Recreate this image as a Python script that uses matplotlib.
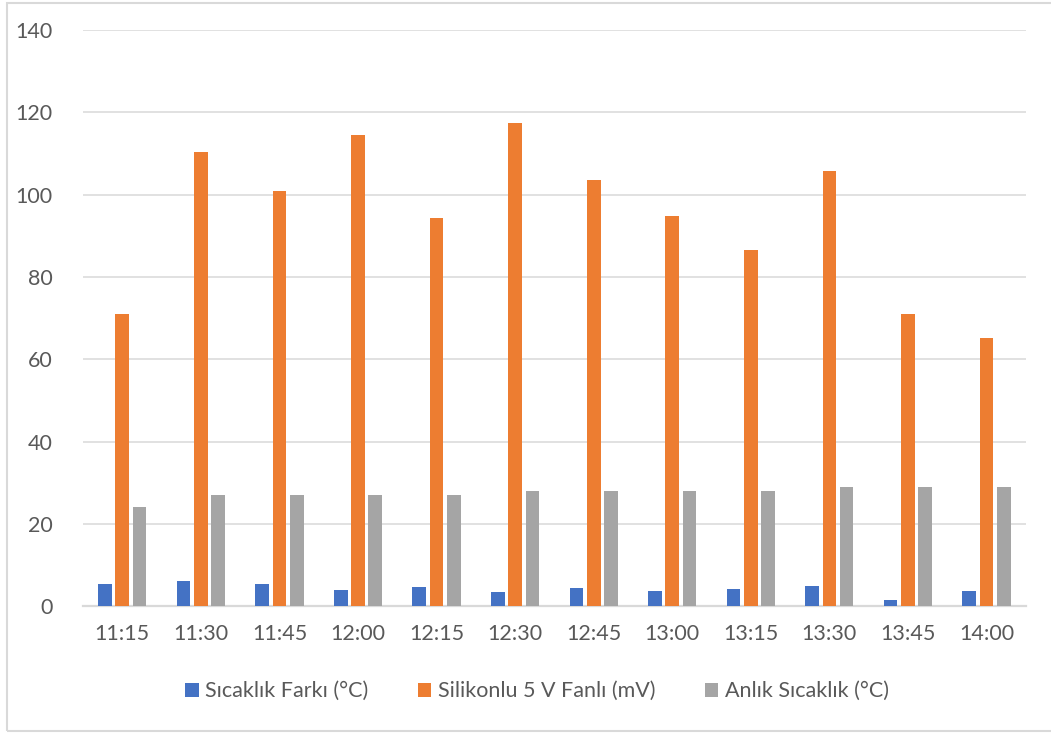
import numpy as np
import matplotlib
matplotlib.use("Agg")
import matplotlib.pyplot as plt
from matplotlib.patches import Rectangle

plt.rcParams['font.family'] = ['Lato', 'DejaVu Sans']

times = ['11:15', '11:30', '11:45', '12:00', '12:15', '12:30',
         '12:45', '13:00', '13:15', '13:30', '13:45', '14:00']
sicaklik_farki = [5.5, 6.0, 5.4, 4.0, 4.6, 3.5, 4.4, 3.7, 4.1, 4.9, 1.5, 3.6]
silikonlu_fanli = [71.0, 110.3, 101.0, 114.5, 94.3, 117.5, 103.5, 94.9, 86.6, 105.7, 71.1, 65.2]
anlik_sicaklik = [24, 27, 27, 27, 27, 28, 28, 28, 28, 29, 29, 29]

series = [
    ('Sıcaklık Farkı (°C)', sicaklik_farki, '#4472C4'),
    ('Silikonlu 5 V Fanlı (mV)', silikonlu_fanli, '#ED7D31'),
    ('Anlık Sıcaklık (°C)', anlik_sicaklik, '#A5A5A5'),
]

txt = '#595959'
grid = '#D9D9D9'

fig = plt.figure(figsize=(10.51, 7.33), dpi=100)
ax = fig.add_axes([0.079, 0.173, 0.897, 0.786])

x = np.arange(len(times))
width = 0.174
step = 0.22
for i, (name, vals, col) in enumerate(series):
    ax.bar(x + (i - 1) * step, vals, width, color=col, label=name, zorder=3)

ax.set_xlim(-0.5, len(times) - 0.5)
ax.set_ylim(0, 140)
ax.set_yticks(range(0, 141, 20))
ax.set_xticks(x)
ax.set_xticklabels(times)
ax.yaxis.grid(True, color=grid, linewidth=1.1, zorder=0)
for side in ['top', 'right', 'left']:
    ax.spines[side].set_visible(False)
ax.spines['bottom'].set_color(grid)
ax.spines['bottom'].set_linewidth(1.6)
ax.tick_params(axis='both', length=0, colors=txt, labelsize=15.5)
ax.tick_params(axis='x', pad=13)
ax.tick_params(axis='y', pad=22)

leg = fig.legend(loc='center', bbox_to_anchor=(0.511, 0.057), ncol=3, frameon=False,
                 fontsize=15.5, handlelength=0.62, handleheight=0.62, handletextpad=0.3,
                 columnspacing=2.3)
for t in leg.get_texts():
    t.set_color(txt)

# chart border
fig.patches.append(Rectangle((7 / 1051, 2 / 733), 1.1, 1 - 5 / 733,
                             transform=fig.transFigure, fill=False,
                             edgecolor=grid, linewidth=1.5))

fig.savefig('out.png', dpi=100)
